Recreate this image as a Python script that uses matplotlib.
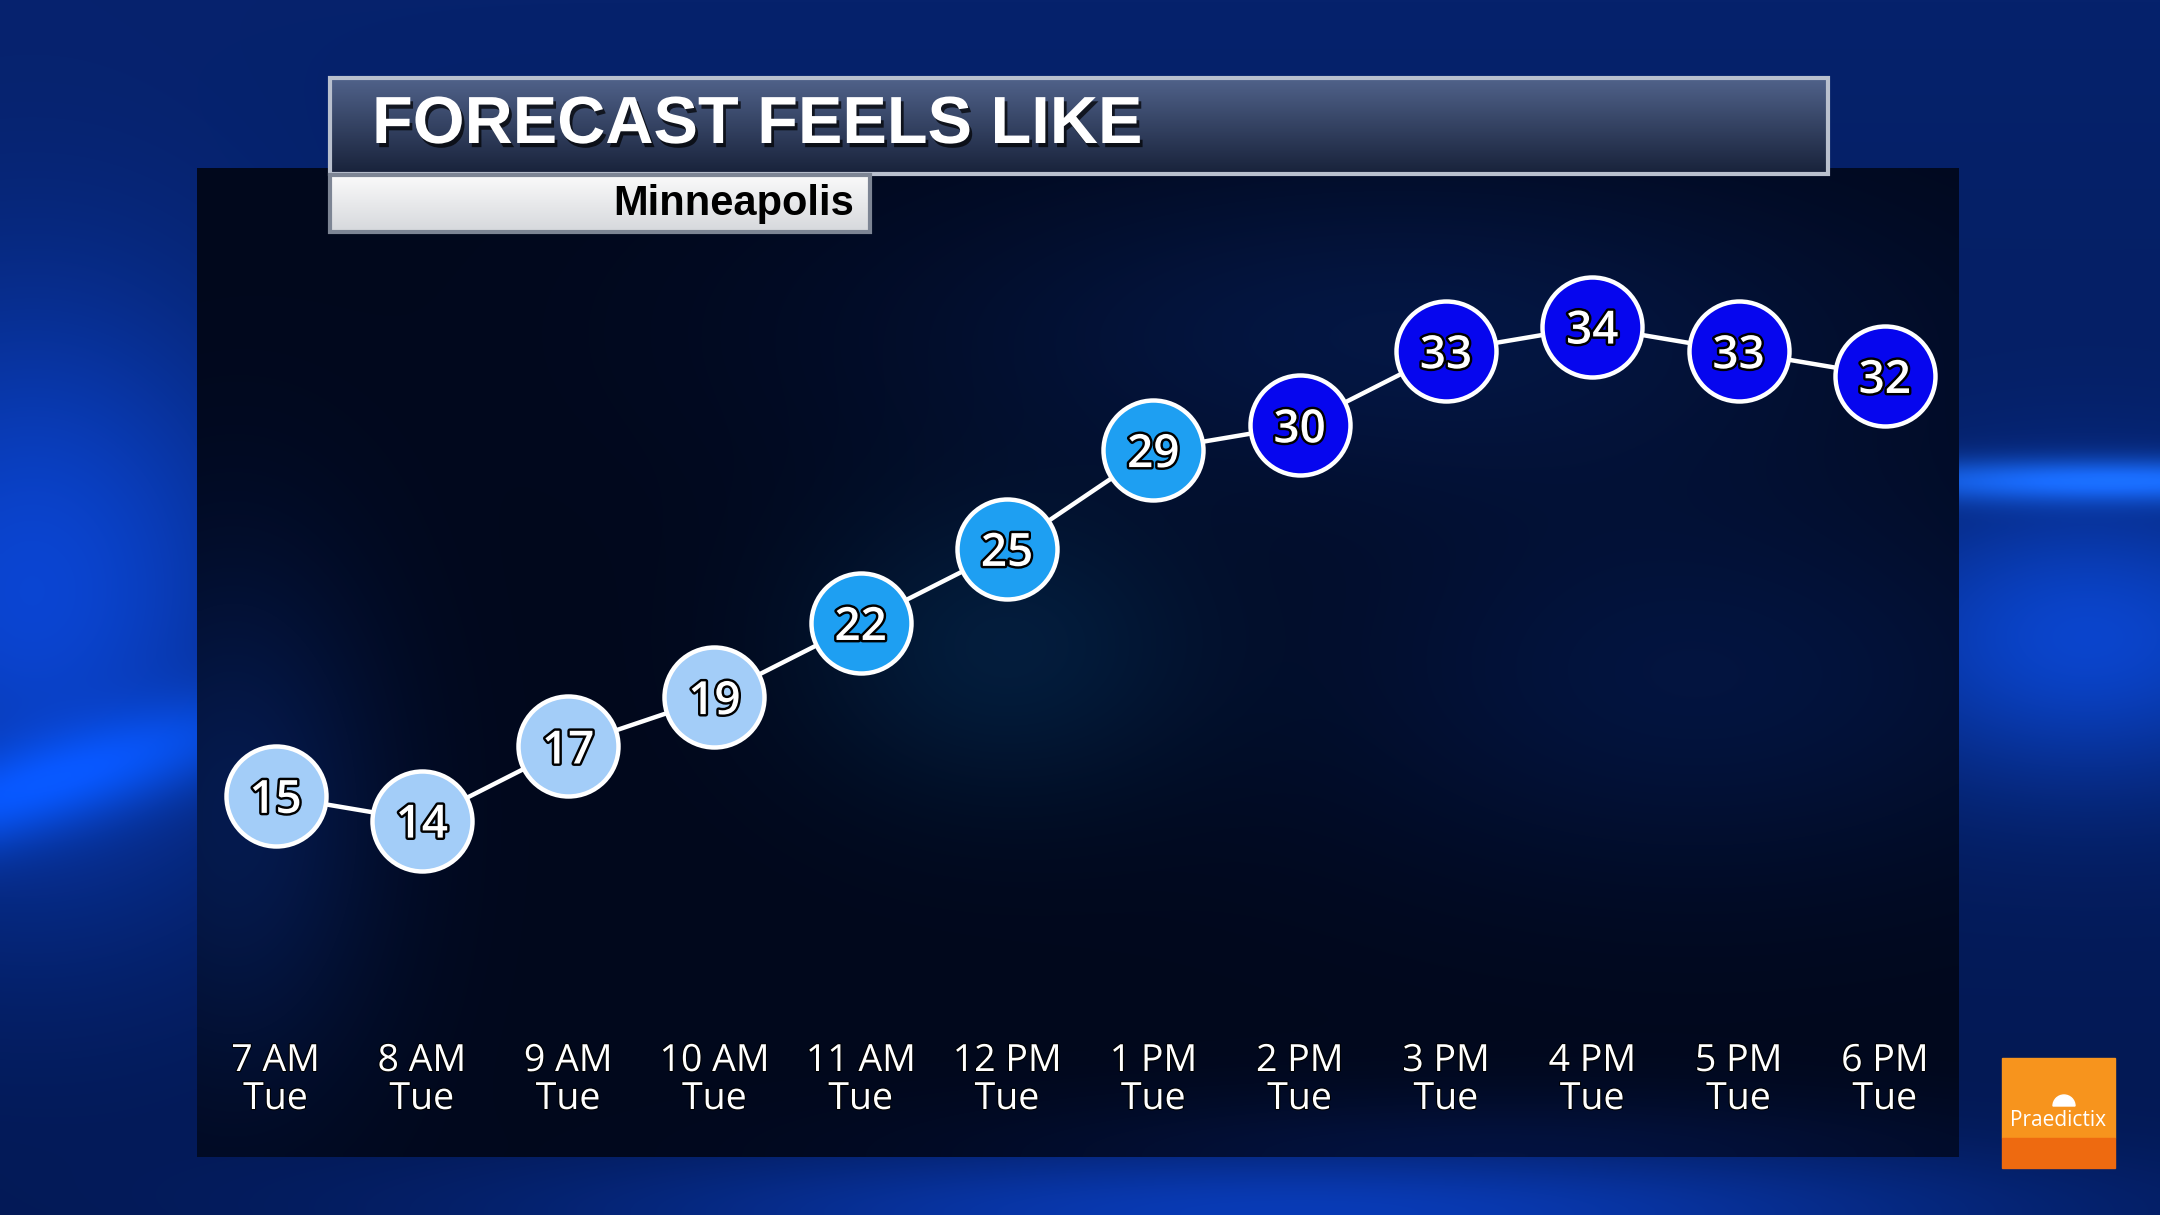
import numpy as np
import matplotlib
matplotlib.use("Agg")
from matplotlib import pyplot as plt
from matplotlib.patches import Rectangle, Wedge
import matplotlib.patheffects as pe

hours = ["7 AM", "8 AM", "9 AM", "10 AM", "11 AM", "12 PM",
         "1 PM", "2 PM", "3 PM", "4 PM", "5 PM", "6 PM"]
days = ["Tue"] * 12
feels_like = [15, 14, 17, 19, 22, 25, 29, 30, 33, 34, 33, 32]
title = "FORECAST FEELS LIKE"
city = "Minneapolis"

W, H = 2160, 1215


def blob(X, Y, cx, cy, sx, sy):
    return np.exp(-(((X - cx) / sx) ** 2 + ((Y - cy) / sy) ** 2))


def point_color(v):
    if v >= 30:
        return "#0606ee"
    if v >= 20:
        return "#1e9ff2"
    return "#a3cdf8"


fig = plt.figure(figsize=(W / 100, H / 100), dpi=100)
bg = fig.add_axes([0, 0, 1, 1])
bg.set_xlim(0, W)
bg.set_ylim(H, 0)
bg.axis("off")

# blue swirl background
X, Y = np.meshgrid(np.linspace(0, W, 480), np.linspace(0, H, 270))
t = (Y / H)[..., None]
img = np.array([6, 34, 108]) / 255 * (1 - t) + np.array([3, 24, 82]) / 255 * t
img = img + blob(X, Y, 30, 600, 260, 300)[..., None] * np.array([6, 40, 115]) / 255
# curved bright band on the left
band_y = 800 - 0.3 * X
img += (np.exp(-(X / 380) ** 2) * np.exp(-((Y - band_y) / 50) ** 2))[..., None] * np.array([0, 35, 90]) / 255
img += blob(X, Y, 2120, 480, 320, 22)[..., None] * np.array([20, 70, 130]) / 255
img += blob(X, Y, 2090, 640, 260, 150)[..., None] * np.array([6, 40, 110]) / 255
img += blob(X, Y, 1300, 1215, 700, 70)[..., None] * np.array([6, 35, 100]) / 255
bg.imshow(np.clip(img, 0, 1), extent=[0, W, H, 0], aspect="auto",
          interpolation="bilinear", zorder=0)

# dark chart panel
px0, px1, py0, py1 = 197, 1959, 168, 1157
PX, PY = np.meshgrid(np.linspace(px0, px1, 300), np.linspace(py0, py1, 170))
pimg = np.zeros((170, 300, 3))
pimg[:] = np.array([1, 8, 28]) / 255
pimg += blob(PX, PY, 1400, 330, 500, 170)[..., None] * np.array([3, 14, 38]) / 255
pimg += blob(PX, PY, 1000, 650, 200, 150)[..., None] * np.array([2, 20, 30]) / 255
pimg += blob(PX, PY, 230, 820, 150, 260)[..., None] * np.array([4, 18, 50]) / 255
pimg += blob(PX, PY, 1700, 680, 400, 200)[..., None] * np.array([2, 12, 35]) / 255
pimg += blob(PX, PY, 1500, 1157, 500, 60)[..., None] * np.array([2, 10, 35]) / 255
bg.imshow(np.clip(pimg, 0, 1), extent=[px0, px1, py1, py0], aspect="auto",
          interpolation="bilinear", zorder=1)

# title bar
tx0, tx1, ty0, ty1 = 330, 1828, 78, 174
grad = np.linspace(0, 1, 100)[:, None, None]
top_c = np.array([80, 98, 138]) / 255
bot_c = np.array([24, 34, 58]) / 255
bar = top_c * (1 - grad) + bot_c * grad
bar = np.repeat(bar, 2, axis=1)
bg.imshow(bar, extent=[tx0, tx1, ty1, ty0], aspect="auto", zorder=2)
bg.add_patch(Rectangle((tx0, ty0), tx1 - tx0, ty1 - ty0, fill=False,
                       edgecolor="#b9c0ce", lw=3, zorder=3))
bg.text(372, 126, title, color="white", fontsize=48, fontweight="bold",
        family=["Liberation Sans", "DejaVu Sans"], va="center", ha="left",
        zorder=4,
        path_effects=[pe.SimplePatchShadow(offset=(2, -3), shadow_rgbFace="black", alpha=0.7),
                      pe.Normal()])

# city box
sx0, sx1, sy0, sy1 = 330, 870, 175, 232
sgrad = np.linspace(0, 1, 60)[:, None, None]
sbox = np.array([250, 250, 250]) / 255 * (1 - sgrad) + np.array([214, 216, 220]) / 255 * sgrad
sbox = np.repeat(sbox, 2, axis=1)
bg.imshow(sbox, extent=[sx0, sx1, sy1, sy0], aspect="auto", zorder=2)
bg.add_patch(Rectangle((sx0, sy0), sx1 - sx0, sy1 - sy0, fill=False,
                       edgecolor="#7d8594", lw=3, zorder=3))
bg.text(854, 204, city, color="black", fontsize=30, fontweight="bold",
        family=["Liberation Sans", "DejaVu Sans"], va="center", ha="right", zorder=4)

# logo
lx0, lx1, ly0, ly1 = 2002, 2115, 1058, 1168
bg.add_patch(Rectangle((lx0, ly0), lx1 - lx0, 80, color="#f7941d", zorder=2))
bg.add_patch(Rectangle((lx0, ly0 + 80), lx1 - lx0, ly1 - ly0 - 80, color="#ee6a10", zorder=2))
bg.add_patch(Wedge((2064, 1106), 11, 180, 360, color="white", zorder=3))
bg.text(2058, 1120, "Praedictix", color="white", fontsize=15,
        family=["Open Sans", "DejaVu Sans"], ha="center", va="center", zorder=3)

# chart axes over the dark panel
ax = fig.add_axes([px0 / W, 1 - py1 / H, (px1 - px0) / W, (py1 - py0) / H])
ax.patch.set_alpha(0)
ax.axis("off")
ax.set_xlim(-0.537, 11.507)
ax.set_ylim(0.38, 40.42)

x = np.arange(len(feels_like))
ax.plot(x, feels_like, color="white", lw=3.2, zorder=2)
for i, v in enumerate(feels_like):
    ax.plot(i, v, "o", ms=72, mfc=point_color(v), mec="white", mew=3.2, zorder=3)
    ax.text(i, v, str(v), color="white", fontsize=33, fontweight="semibold",
            ha="center", va="center_baseline",
            family=["Open Sans", "DejaVu Sans"], zorder=4,
            path_effects=[pe.withStroke(linewidth=3.5, foreground="black")])

trans = ax.get_xaxis_transform()
outline = [pe.withStroke(linewidth=1.5, foreground="black")]
for i, (h, d) in enumerate(zip(hours, days)):
    ax.text(i, (py1 - 1061) / (py1 - py0), h, transform=trans, color="white",
            fontsize=27, ha="center", va="center",
            family=["Open Sans", "DejaVu Sans"], path_effects=outline)
    ax.text(i, (py1 - 1099) / (py1 - py0), d, transform=trans, color="white",
            fontsize=27, ha="center", va="center",
            family=["Open Sans", "DejaVu Sans"], path_effects=outline)

fig.savefig("out.png", dpi=100)
